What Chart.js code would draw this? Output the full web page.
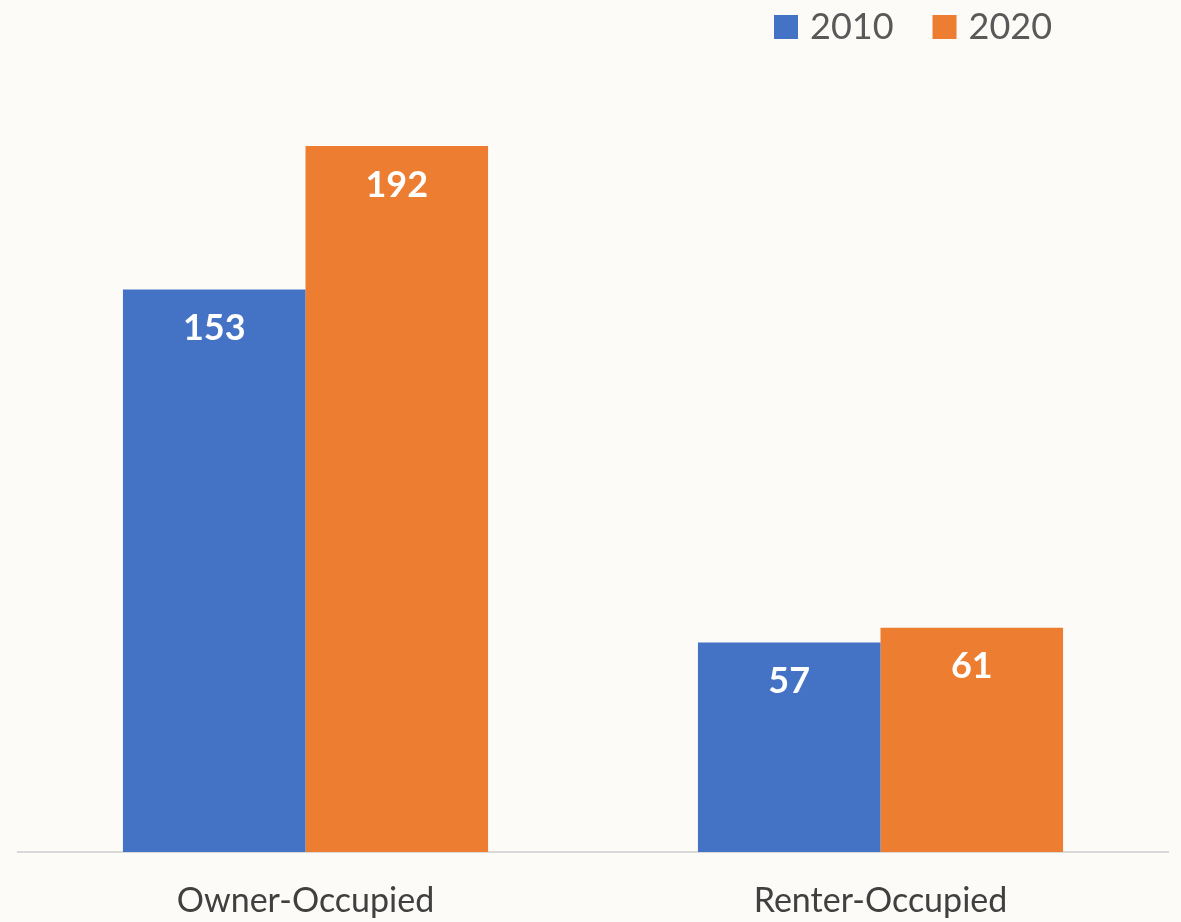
<!DOCTYPE html>
<html>
<head>
<meta charset="utf-8">
<script src="https://cdn.jsdelivr.net/npm/chart.js@4/dist/chart.umd.min.js"></script>
<style>
  html, body { margin: 0; padding: 0; background: #fcfbf8; }
  #wrap { width: 1181px; height: 922px; }
</style>
</head>
<body>
<div id="wrap"><canvas id="housing-chart" width="1181" height="922"></canvas></div>
<script>
// chart values
const categories = ['Owner-Occupied', 'Renter-Occupied'];
const years = ['2010', '2020'];
const values2010 = [153, 57];
const values2020 = [192, 61];
const seriesColors = ['#4472c4', '#ed7d31'];

const FONT = 'Lato, "Open Sans", sans-serif';

// white value labels inside top of each bar
const barLabels = {
    id: 'barLabels',
    afterDatasetsDraw(chart) {
        const ctx = chart.ctx;
        ctx.save();
        ctx.fillStyle = '#ffffff';
        ctx.font = 'bold 36px ' + FONT;
        ctx.textAlign = 'center';
        ctx.textBaseline = 'middle';
        chart.data.datasets.forEach((ds, i) => {
            chart.getDatasetMeta(i).data.forEach((bar, j) => {
                ctx.fillText(ds.data[j], bar.x, bar.y + 39);
            });
        });
        ctx.restore();
    }
};

// legend drawn top-right like the original
const topLegend = {
    id: 'topLegend',
    afterDraw(chart) {
        const ctx = chart.ctx;
        ctx.save();
        ctx.font = '36px ' + FONT;
        ctx.textBaseline = 'middle';
        let x = 774;
        const y = 27;
        chart.data.datasets.forEach((ds) => {
            ctx.fillStyle = ds.backgroundColor;
            ctx.fillRect(x, y - 12, 24, 24);
            ctx.fillStyle = '#595959';
            ctx.fillText(ds.label, x + 36, y);
            x += 36 + ctx.measureText(ds.label).width + 39;
        });
        ctx.restore();
    }
};

new Chart(document.getElementById('housing-chart'), {
    type: 'bar',
    data: {
        labels: categories,
        datasets: [
            { label: years[0], data: values2010, backgroundColor: seriesColors[0] },
            { label: years[1], data: values2020, backgroundColor: seriesColors[1] }
        ]
    },
    options: {
        responsive: false,
        animation: false,
        events: [],
        datasets: {
            bar: { categoryPercentage: 0.635, barPercentage: 1.0 }
        },
        layout: {
            padding: { top: 116.6, left: 18, right: 13, bottom: 0 }
        },
        plugins: {
            legend: { display: false },
            tooltip: { enabled: false }
        },
        scales: {
            y: {
                display: false,
                min: 0,
                max: 200
            },
            x: {
                grid: { display: false, drawTicks: false },
                border: { display: true, color: '#d9d9d9', width: 2 },
                ticks: {
                    color: '#404040',
                    padding: 29,
                    font: { family: FONT, size: 34 }
                },
                afterFit(scale) { scale.height = 70; }
            }
        }
    },
    plugins: [barLabels, topLegend]
});
</script>
</body>
</html>
